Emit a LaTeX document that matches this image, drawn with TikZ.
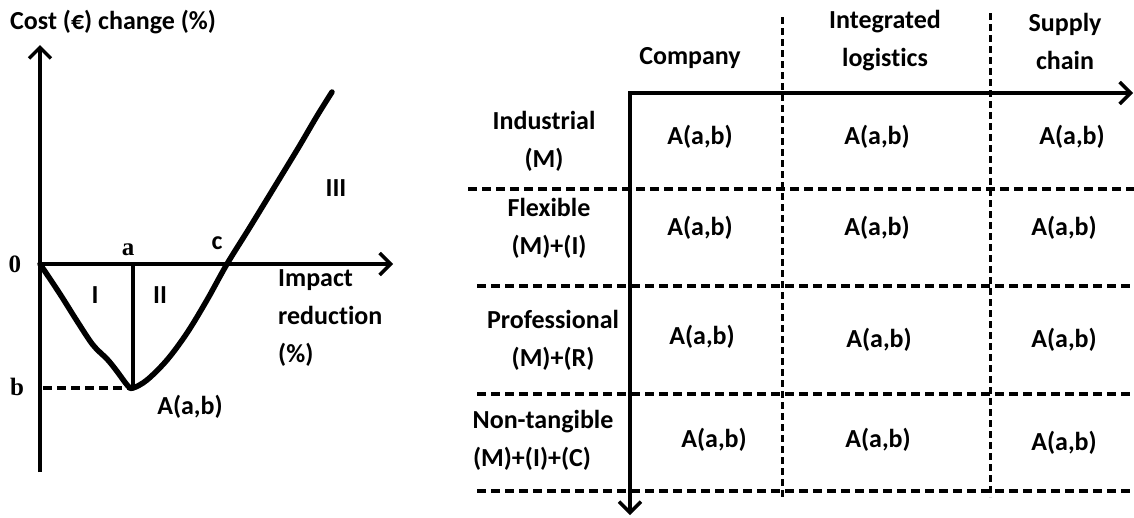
\documentclass[tikz,border=0pt]{standalone}
\usepackage{fontspec}
\setmainfont{Carlito}[Ligatures=NoCommon]
\newfontfamily\tnrfont{Liberation Serif}
\usetikzlibrary{arrows.meta}
\tikzset{
  lbl/.style={inner sep=0pt, font=\fontsize{26}{38}\selectfont\bfseries, align=center},
  serlbl/.style={inner sep=0pt, font=\tnrfont\fontsize{25}{28}\selectfont\bfseries},
  axis/.style={line width=3.6pt, -{Straight Barb[length=11pt,width=22pt,line width=3.4pt]}},
  axisboth/.style={line width=3.4pt, {Straight Barb[length=11pt,width=22pt,line width=3.4pt]}-{Straight Barb[length=11pt,width=22pt,line width=3.4pt]}},
  hdash/.style={line width=3.4pt, dash pattern=on 9pt off 5pt},
  vdash/.style={line width=3pt, dash pattern=on 7pt off 4pt},
  curve/.style={line width=5.5pt, line join=round, line cap=round},
}
\begin{document}
\begin{tikzpicture}[x=1pt,y=-1pt]
\useasboundingbox (0,0) rectangle (1134,517);
% ---------------- left graph ----------------
\coordinate (O) at (40,264);
\coordinate (ybot) at (40,472);
\coordinate (ytop) at (40,45);
\coordinate (xtip) at (393,264);
\coordinate (aAx) at (133,264);
\coordinate (Amin) at (133,388);
\coordinate (bAx) at (43,388);
\coordinate (bEnd) at (137,388);
\draw[axis] (ybot) -- (ytop);
\draw[axis] (O) -- (xtip);
\draw[line width=3.6pt] (aAx) -- (Amin);
\draw[hdash] (bAx) -- (bEnd);
\draw[curve] plot[smooth, tension=0.55] coordinates {(40,264) (60,294) (77,321) (93,345) (107,359) (116,370) (128,386) (133,388) (147,380) (167,360) (187,333) (207,300) (227,264) (250,227) (283,173) (300,145) (317,116) (332,92)};

\node[lbl, anchor=west] (ttl) at (10,22) {Cost (€) change (\%)};
\node[serlbl] (zero) at (15,264) {0};
\node[serlbl] (la) at (128,250) {a};
\node[serlbl] (lb) at (17,387) {b};
\node[lbl] (lc) at (217,243) {c};
\node[lbl] (r1) at (95,295) {I};
\node[lbl] (r2) at (160,295) {II};
\node[lbl] (r3) at (336,188) {III};
\node[lbl, anchor=west, align=left] (imp) at (278,318) {Impact\\reduction\\(\%)};
\node[lbl] (Aab) at (190,407) {A(a,b)};

% ---------------- right table ----------------
\coordinate (corner) at (630,93);
\coordinate (htip) at (1133,93);
\coordinate (vtip) at (630,515);
\coordinate (v1t) at (782,17);
\coordinate (v1b) at (782,500);
\coordinate (v2t) at (990,13);
\coordinate (v2b) at (990,497);
\coordinate (h1l) at (468,189);
\coordinate (h1r) at (1134,189);
\coordinate (h2l) at (477,286);
\coordinate (h2r) at (1134,286);
\coordinate (h3l) at (477,394);
\coordinate (h3r) at (1134,394);
\coordinate (h4l) at (477,491);
\coordinate (h4r) at (1134,491);
\draw[vdash] (v1t) -- (v1b);
\draw[vdash] (v2t) -- (v2b);
\draw[hdash] (h1l) -- (h1r);
\draw[hdash] (h2l) -- (h2r);
\draw[hdash] (h3l) -- (h3r);
\draw[hdash] (h4l) -- (h4r);
\draw[axisboth, line join=miter] (htip) -- (corner) -- (vtip);

\node[lbl] (hc1) at (690,58) {Company};
\node[lbl] (hc2) at (885,41) {Integrated\\logistics};
\node[lbl] (hc3) at (1065,41) {Supply\\chain};

\node[lbl] (rl1) at (544,141) {Industrial\\(M)};
\node[lbl] (rl2) at (549,228) {Flexible\\(M)+(I)};
\node[lbl] (rl3) at (553,340) {Professional\\(M)+(R)};
\node[lbl] (rl4) at (543,440) {Non-tangible\\\hspace*{-22pt}(M)+(I)+(C)};

\node[lbl] (c11) at (700,137) {A(a,b)};
\node[lbl] (c21) at (700,228) {A(a,b)};
\node[lbl] (c31) at (702,337) {A(a,b)};
\node[lbl] (c41) at (714,440) {A(a,b)};
\node[lbl] (c12) at (877,137) {A(a,b)};
\node[lbl] (c22) at (877,228) {A(a,b)};
\node[lbl] (c32) at (879,340) {A(a,b)};
\node[lbl] (c42) at (878,440) {A(a,b)};
\node[lbl] (c13) at (1072,137) {A(a,b)};
\node[lbl] (c23) at (1064,228) {A(a,b)};
\node[lbl] (c33) at (1064,340) {A(a,b)};
\node[lbl] (c43) at (1064,443) {A(a,b)};
\end{tikzpicture}
\end{document}
